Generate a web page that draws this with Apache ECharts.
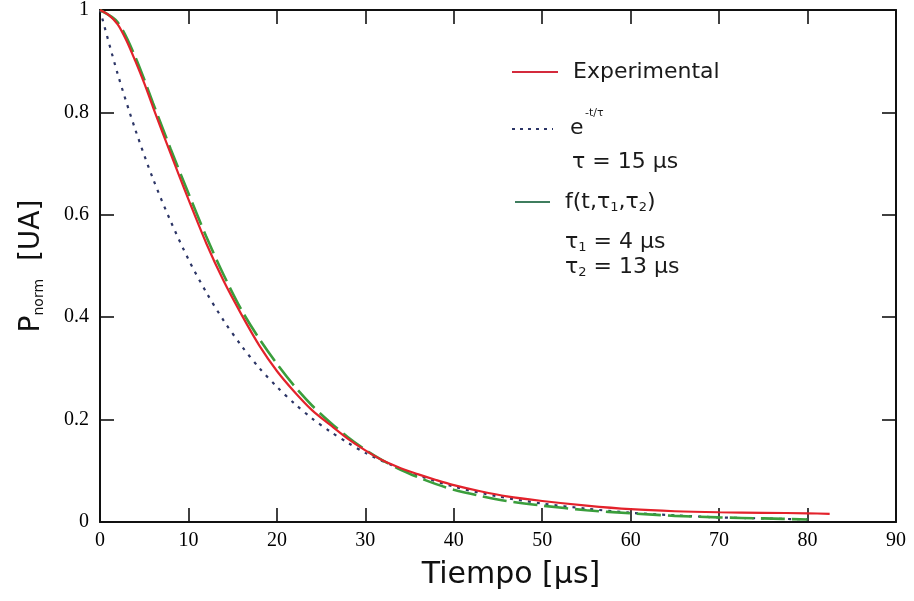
<!DOCTYPE html>
<html>
<head>
<meta charset="utf-8">
<script src="https://cdn.jsdelivr.net/npm/echarts@6/dist/echarts.min.js"></script>
<style>
  html, body { margin: 0; padding: 0; background: #ffffff; }
  #chart { width: 914px; height: 601px; }
</style>
</head>
<body>
<div id="chart"></div>
<script>
// Normalised pulse decay vs. time: measured curve, single exponential and two-constant model
const experimentalT = [0, 1, 2, 3, 4, 5, 6, 7, 8, 9, 10, 12, 14, 16, 18, 20, 22, 24, 26, 28, 30, 32, 34, 36, 38, 40, 43, 46, 50, 55, 60, 65, 70, 75, 80, 82.5];
const experimentalP = [1.0, 0.99, 0.972, 0.94, 0.9, 0.857, 0.81, 0.764, 0.719, 0.674, 0.63, 0.545, 0.47, 0.405, 0.345, 0.295, 0.254, 0.218, 0.19, 0.163, 0.14, 0.12, 0.105, 0.093, 0.082, 0.072, 0.06, 0.05, 0.041, 0.032, 0.025, 0.021, 0.019, 0.018, 0.017, 0.016];

const expoT = [0, 2, 4, 6, 8, 10, 12, 14, 16, 18, 20, 22, 24, 26, 28, 30, 33, 36, 40, 45, 50, 55, 60, 65, 70, 75, 80];
const expoP = [1.0, 0.875, 0.766, 0.67, 0.587, 0.513, 0.449, 0.393, 0.344, 0.301, 0.264, 0.231, 0.202, 0.177, 0.155, 0.135, 0.111, 0.091, 0.069, 0.05, 0.036, 0.026, 0.018, 0.013, 0.009, 0.007, 0.005];

const modelT = [0, 2, 4, 6, 8, 10, 12, 14, 16, 18, 20, 22, 24, 26, 28, 30, 32, 34, 36, 38, 40, 43, 46, 50, 55, 60, 65, 70, 75, 80];
const modelP = [1.0, 0.976, 0.908, 0.818, 0.728, 0.642, 0.558, 0.482, 0.414, 0.358, 0.309, 0.265, 0.227, 0.195, 0.166, 0.141, 0.12, 0.102, 0.087, 0.074, 0.063, 0.051, 0.041, 0.032, 0.023, 0.017, 0.012, 0.009, 0.007, 0.005];

const xTicks = { min: 0, max: 90, interval: 10 };
const yTicks = { min: 0, max: 1, interval: 0.2 };

const pairs = (xs, ys) => xs.map((x, i) => [x, ys[i]]);

const SANS = '"DejaVu Sans", Verdana, sans-serif';
const SERIF = '"Liberation Serif", "Times New Roman", serif';
const INK = '#111111';
const RED = '#e3222b';
const GREEN = '#3a9e3c';
const NAVY = '#2c3566';

function frameAxis(extra) {
  return Object.assign({
    type: 'value',
    axisLine: { show: true, onZero: false, lineStyle: { color: INK, width: 2 } },
    axisTick: { show: true, inside: true, length: 14, lineStyle: { color: INK, width: 1.6 } },
    splitLine: { show: false },
    axisLabel: { show: false }
  }, extra);
}

const chart = echarts.init(document.getElementById('chart'), null, { renderer: 'canvas' });

chart.setOption({
  animation: false,
  backgroundColor: '#ffffff',
  grid: { left: 100, right: 18, top: 7, bottom: 79 },
  xAxis: [
    frameAxis(Object.assign({}, xTicks, {
      position: 'bottom',
      axisLabel: { show: true, margin: 9, fontFamily: SERIF, fontSize: 20, color: '#000', showMinLabel: true, showMaxLabel: true },
      name: 'Tiempo [µs]',
      nameLocation: 'middle',
      nameGap: 38,
      nameTextStyle: { fontFamily: SANS, fontSize: 30, color: INK, padding: [0, 0, 0, 26] }
    })),
    frameAxis(Object.assign({}, xTicks, { position: 'top' }))
  ],
  yAxis: [
    frameAxis(Object.assign({}, yTicks, {
      position: 'left',
      axisLabel: { show: true, margin: 11, fontFamily: SERIF, fontSize: 20, color: '#000', showMinLabel: true, showMaxLabel: true },
      name: '{p|P}{s|norm}{p|  [UA]}',
      nameLocation: 'middle',
      nameGap: 54,
      nameRotate: 90,
      nameTextStyle: {
        color: INK,
        rich: {
          p: { fontFamily: SANS, fontSize: 28, color: INK, lineHeight: 36, verticalAlign: 'bottom' },
          s: { fontFamily: SANS, fontSize: 14, color: INK, lineHeight: 36, verticalAlign: 'bottom' }
        }
      }
    })),
    frameAxis(Object.assign({}, yTicks, { position: 'right' }))
  ],
  series: [
    {
      name: 'exp',
      type: 'line',
      data: pairs(expoT, expoP),
      showSymbol: false,
      smooth: 0.3,
      lineStyle: { color: NAVY, width: 2.2, type: [3, 6] },
      z: 2
    },
    {
      name: 'model',
      type: 'line',
      data: pairs(modelT, modelP),
      showSymbol: false,
      smooth: 0.3,
      lineStyle: { color: GREEN, width: 2.6, type: [24, 7] },
      z: 3
    },
    {
      name: 'Experimental',
      type: 'line',
      data: pairs(experimentalT, experimentalP),
      showSymbol: false,
      smooth: 0.3,
      lineStyle: { color: RED, width: 2.2 },
      z: 4
    }
  ],
  graphic: [
    { type: 'line', shape: { x1: 512, y1: 72, x2: 558, y2: 72 }, style: { stroke: '#d42a3c', lineWidth: 2 } },
    { type: 'text', x: 573, y: 72, style: { text: 'Experimental', font: '22px ' + SANS, fill: '#1a1a1a', verticalAlign: 'middle' } },

    { type: 'line', shape: { x1: 512, y1: 129, x2: 553, y2: 129 }, style: { stroke: NAVY, lineWidth: 2, lineDash: [3, 5] } },
    { type: 'text', x: 570, y: 128, style: { text: 'e', font: '22px ' + SANS, fill: '#1a1a1a', verticalAlign: 'middle' } },
    { type: 'text', x: 585, y: 113, style: { text: '-t/τ', font: '11px ' + SANS, fill: '#1a1a1a', verticalAlign: 'middle' } },
    { type: 'text', x: 572, y: 162, style: { text: 'τ = 15 µs', font: '22px ' + SANS, fill: '#1a1a1a', verticalAlign: 'middle' } },

    { type: 'line', shape: { x1: 515, y1: 202, x2: 550, y2: 202 }, style: { stroke: '#3f7d5e', lineWidth: 2 } },
    {
      type: 'text', x: 565, y: 202,
      style: {
        text: 'f(t,τ{s|1},τ{s|2})', font: '22px ' + SANS, fill: '#1a1a1a', verticalAlign: 'middle',
        rich: { s: { fontSize: 13, fontFamily: SANS, verticalAlign: 'bottom', lineHeight: 24 } }
      }
    },
    {
      type: 'text', x: 565, y: 242,
      style: {
        text: 'τ{s|1} = 4 µs', font: '22px ' + SANS, fill: '#1a1a1a', verticalAlign: 'middle',
        rich: { s: { fontSize: 13, fontFamily: SANS, verticalAlign: 'bottom', lineHeight: 24 } }
      }
    },
    {
      type: 'text', x: 565, y: 267,
      style: {
        text: 'τ{s|2} = 13 µs', font: '22px ' + SANS, fill: '#1a1a1a', verticalAlign: 'middle',
        rich: { s: { fontSize: 13, fontFamily: SANS, verticalAlign: 'bottom', lineHeight: 24 } }
      }
    }
  ]
});
</script>
</body>
</html>
